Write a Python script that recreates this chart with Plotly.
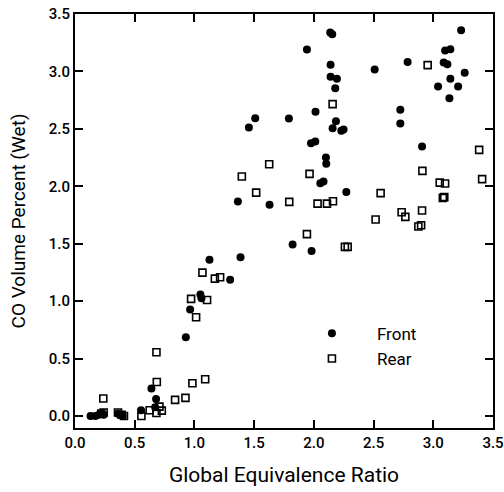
import plotly.graph_objects as go

front_x = [0.13, 0.17, 0.20, 0.22, 0.24, 0.36, 0.38, 0.40,
           0.553, 0.671, 0.679, 0.640,
           0.928, 0.964, 1.050, 1.059, 1.126, 1.299, 1.386, 1.364, 1.456, 1.509,
           1.629, 1.791, 1.822, 1.942, 1.976, 2.012, 1.981, 2.014, 2.054, 2.081,
           2.101, 2.104, 2.137, 2.154, 2.140, 2.140, 2.193, 2.179, 2.185, 2.157,
           2.230, 2.249, 2.272, 2.509, 2.724, 2.724, 2.785, 2.906, 3.040, 3.087,
           3.118, 3.099, 3.143, 3.135, 3.143, 3.208, 3.233, 3.263]
front_y = [0.00, 0.00, 0.01, 0.02, 0.01, 0.02, 0.01, 0.00,
           0.050, 0.076, 0.148, 0.240,
           0.685, 0.926, 1.057, 1.025, 1.359, 1.185, 1.382, 1.867, 2.511, 2.593,
           1.838, 2.590, 1.492, 3.191, 2.375, 2.389, 1.437, 2.648, 2.027, 2.041,
           2.250, 2.195, 3.339, 3.324, 3.057, 2.953, 2.936, 2.854, 2.567, 2.506,
           2.483, 2.494, 1.951, 3.017, 2.666, 2.547, 3.081, 2.346, 2.869, 3.078,
           3.063, 3.182, 3.193, 2.767, 2.936, 2.869, 3.359, 2.988]

rear_x = [0.237, 0.22, 0.24, 0.36, 0.39, 0.41, 0.556, 0.625, 0.682, 0.707,
          0.727, 0.685, 0.682, 0.838, 0.925, 0.983, 1.090, 1.014, 0.972, 1.106,
          1.067, 1.171, 1.215, 1.397, 1.517, 1.626, 1.794, 1.942, 1.964, 2.031,
          2.110, 2.160, 2.157, 2.260, 2.283, 2.517, 2.559, 2.735, 2.766, 2.875,
          2.898, 2.906, 2.909, 2.953, 3.054, 3.099, 3.080, 3.092, 3.384, 3.409]
rear_y = [0.152, 0.02, 0.03, 0.03, 0.01, 0.00, 0.000, 0.050, 0.025, 0.081,
          0.046, 0.295, 0.555, 0.140, 0.157, 0.285, 0.320, 0.860, 1.019, 1.010,
          1.248, 1.196, 1.208, 2.085, 1.945, 2.192, 1.864, 1.583, 2.108, 1.849,
          1.849, 1.870, 2.715, 1.472, 1.472, 1.710, 1.940, 1.774, 1.733, 1.649,
          1.661, 1.789, 2.134, 3.055, 2.032, 2.024, 1.899, 1.905, 2.317, 2.062]

x_ticks = [0.0, 0.5, 1.0, 1.5, 2.0, 2.5, 3.0, 3.5]
y_ticks = [0.0, 0.5, 1.0, 1.5, 2.0, 2.5, 3.0, 3.5]

FONT = "Roboto, Liberation Sans, sans-serif"

fig = go.Figure()
fig.add_trace(go.Scatter(
    x=front_x, y=front_y, mode="markers", name="Front",
    marker=dict(symbol="circle", size=8, color="black", line=dict(width=0)),
))
fig.add_trace(go.Scatter(
    x=rear_x, y=rear_y, mode="markers", name="Rear",
    marker=dict(symbol="square-open", size=7, color="black", line=dict(width=1.6, color="black")),
))

axis_common = dict(
    showline=True, linecolor="black", linewidth=2, mirror="ticks",
    ticks="inside", ticklen=8, tickwidth=2, tickcolor="black",
    showgrid=False, zeroline=False, automargin=False,
    ticklabeloverflow="allow",
    tickfont=dict(family=FONT, size=15, color="black", weight=500),
)

fig.update_xaxes(
    range=[0, 3.5], tickvals=x_ticks, ticktext=[f"{v:.1f}" for v in x_ticks],
    title=dict(text="Global Equivalence Ratio", font=dict(family=FONT, size=21, color="black"), standoff=16),
    **axis_common,
)
fig.update_yaxes(
    range=[-0.105, 3.5], tickvals=y_ticks, ticktext=[f"{v:.1f}" for v in y_ticks],
    title=dict(text="CO Volume Percent (Wet)", font=dict(family=FONT, size=19, color="black"), standoff=18),
    **axis_common,
)

fig.update_layout(
    width=504, height=492,
    margin=dict(l=75, r=11, t=14, b=64),
    paper_bgcolor="white", plot_bgcolor="white",
    showlegend=True,
    legend=dict(
        x=0.507, y=0.271, xanchor="left", yanchor="top",
        bgcolor="rgba(0,0,0,0)", borderwidth=0,
        font=dict(family=FONT, size=17, color="black"),
        itemwidth=80, tracegroupgap=0,
    ),
)

fig.write_html(
    "out.html",
    config={"displayModeBar": False},
    post_script="document.body.style.margin='0px';document.body.style.overflow='hidden';",
)
